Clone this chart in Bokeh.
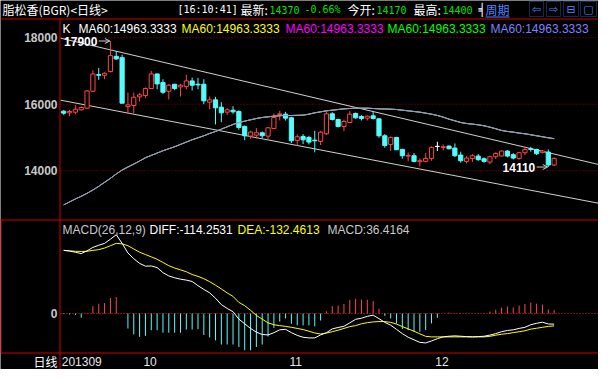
import numpy as np
from bokeh.plotting import figure
from bokeh.models import (Range1d, Label, BoxAnnotation, Arrow, OpenHead, ColumnDataSource)
from bokeh.embed import file_html
from bokeh.resources import INLINE

# ---------------- data ----------------
opens = [15790, 15740, 15760, 15830, 15880, 16390, 16890, 16870, 16980, 17440,
         17400, 15930, 15960, 16220, 16260, 16470, 16910, 16650, 16390, 16600,
         16520, 16530, 16700, 16600, 16600, 16060, 16130, 15910, 15760, 15820,
         15780, 15330, 15040, 15070, 15140, 15040, 15270, 15690, 15700, 15590,
         14910, 15030, 15000, 14920, 14880, 15110, 15710, 15540, 15330, 15450,
         15720, 15630, 15580, 15650, 15560, 15050, 14790, 15000, 14640, 14440,
         14450, 14270, 14280, 14370, 14730, 14700, 14740, 14680, 14470, 14280,
         14370, 14440, 14360, 14260, 14420, 14440, 14590, 14480, 14370, 14540,
         14660, 14640, 14550, 14560, 14170]
highs = [15820, 15830, 15970, 15930, 16420, 17020, 17090, 16960, 17900, 17600,
         17490, 16350, 16350, 16330, 16500, 17000, 16910, 16750, 16610, 16610,
         16610, 16880, 16800, 16790, 16750, 16230, 16220, 16060, 15880, 15940,
         15820, 15360, 15200, 15280, 15180, 15310, 15720, 15800, 15770, 15620,
         15090, 15100, 15050, 15200, 15200, 15770, 15760, 15560, 15530, 15790,
         15750, 15670, 15660, 15800, 15580, 15100, 15030, 15020, 14660, 14550,
         14530, 14370, 14530, 14730, 14870, 14790, 14760, 14820, 14570, 14440,
         14500, 14500, 14400, 14450, 14550, 14610, 14620, 14530, 14560, 14720,
         14720, 14660, 14620, 14640, 14400]
lows = [15680, 15640, 15700, 15810, 15860, 16370, 16730, 16750, 16960, 17340,
        16030, 15720, 15720, 16080, 16180, 16470, 16450, 16310, 16140, 16420,
        16230, 16450, 16410, 16450, 16000, 15850, 15390, 15460, 15670, 15710,
        15230, 14920, 14960, 14970, 14980, 14930, 15250, 15510, 15510, 14830,
        14750, 14800, 14790, 14550, 14770, 15070, 15510, 15300, 15190, 15430,
        15560, 15510, 15510, 15540, 14990, 14690, 14590, 14620, 14360, 14280,
        14250, 14130, 14250, 14300, 14590, 14610, 14640, 14410, 14240, 14220,
        14260, 14300, 14240, 14190, 14350, 14430, 14400, 14340, 14330, 14470,
        14570, 14470, 14520, 14110, 14140]
closes = [15730, 15780, 15850, 15900, 16400, 16910, 16870, 16930, 17460, 17360,
          16030, 15980, 16210, 16280, 16470, 16910, 16610, 16360, 16570, 16470,
          16570, 16700, 16570, 16580, 16100, 16130, 15890, 15740, 15830, 15770,
          15300, 15050, 15160, 15140, 15050, 15290, 15600, 15710, 15580, 14900,
          15020, 14930, 14860, 14900, 15160, 15710, 15540, 15330, 15480, 15700,
          15590, 15570, 15640, 15570, 15050, 14760, 15000, 14630, 14450, 14460,
          14280, 14300, 14370, 14700, 14730, 14720, 14660, 14450, 14300, 14380,
          14450, 14330, 14280, 14420, 14520, 14590, 14440, 14380, 14540, 14640,
          14640, 14510, 14590, 14170, 14370]
ma60 = [12972, 13060, 13150, 13230, 13320, 13420, 13530, 13650, 13770, 13900,
        14020, 14110, 14200, 14290, 14390, 14460, 14530, 14600, 14660, 14720,
        14790, 14860, 14930, 14990, 15050, 15120, 15180, 15250, 15320, 15390,
        15450, 15490, 15530, 15570, 15600, 15620, 15640, 15655, 15660, 15660,
        15665, 15670, 15700, 15740, 15770, 15800, 15820, 15840, 15860, 15870,
        15880, 15880, 15880, 15870, 15860, 15855, 15850, 15840, 15820, 15800,
        15780, 15760, 15730, 15700, 15660, 15610, 15550, 15500, 15450, 15420,
        15400, 15380, 15350, 15310, 15260, 15210, 15180, 15160, 15130, 15110,
        15080, 15050, 15020, 14990, 14963.3333]
diff = [680, 672, 660, 645, 675, 712, 735, 755, 800, 848,
        755, 652, 590, 540, 510, 512, 495, 440, 405, 385,
        370, 360, 345, 300, 260, 223, 165, 96, 55, 20,
        -60, -110, -160, -200, -225, -230, -206, -175, -170, -205,
        -235, -255, -262, -262, -230, -206, -165, -150, -137, -100,
        -62, -50, -30, -17, -55, -95, -125, -170, -216, -255,
        -282, -310, -316, -295, -270, -251, -244, -240, -244, -248,
        -251, -248, -244, -232, -216, -195, -182, -175, -160, -148,
        -120, -105, -93, -112, -114.2531]
dea = [680, 675, 670, 668, 670, 680, 688, 705, 730, 755,
       750, 730, 695, 660, 635, 610, 584, 550, 515, 490,
       470, 450, 420, 400, 375, 343, 305, 265, 222, 185,
       120, 85, 35, -20, -60, -100, -120, -130, -138, -148,
       -160, -172, -190, -209, -220, -210, -195, -179, -160, -141,
       -130, -110, -98, -90, -86, -86, -95, -113, -140, -165,
       -190, -218, -245, -251, -251, -251, -251, -251, -251, -251,
       -251, -251, -251, -245, -233, -222, -216, -205, -196, -185,
       -168, -158, -148, -138, -132.4613]
macd_hist = [-5, -10, -15, -45, 5, 80, 106, 113, 168, 178,
             0, -161, -223, -251, -240, -179, -179, -206, -206, -206,
             -206, -172, -172, -168, -230, -257, -288, -333, -333, -333,
             -360, -395, -395, -360, -333, -247, -154, -86, -52, -110,
             -127, -127, -127, -137, -75, 24, 79, 86, 103, 148,
             158, 151, 148, 134, 52, -24, -52, -106, -168, -179,
             -196, -196, -179, -106, -45, 0, 10, 3, -3, 3,
             0, 3, 3, 21, 41, 65, 76, 65, 86, 103,
             117, 106, 96, 45, 36.4164]
month_labels = ["201309", "10", "11", "12"]
month_pos = [0, 14, 39, 64]
price_ticks = [14000, 16000, 18000]
macd_ticks = [0]
channel_x = [-0.55, 91.6]
channel_upper = [17986, 14187]
channel_lower = [16121, 13021]
pct_change = "-0.66%"
clock = "[16:10:41]"

# ---------------- layout constants (canvas px, origin top-left) ----------------
W, H = 598, 369
LEFT = 60           # left label column
TOP = 19            # header height (red rule at y=18)
BOT = 17            # date row height
FB = H - BOT        # bottom of MACD panel
PRICE_PX = 200
MACD_PX = FB - TOP - PRICE_PX
DIV_Y = TOP + PRICE_PX
X_LO, X_HI = -0.55, 91.6

price_top, price_bottom = 18547, 12532
macd_top, macd_bottom = 1012, -419
ppx = (price_top - price_bottom) / PRICE_PX
mpx = (macd_top - macd_bottom) / MACD_PX
xpx = (W - LEFT) / (X_HI - X_LO)


def price_at(Y):
    return price_top - (Y - TOP) * ppx


def macd_at(Y):
    return macd_top - (Y - DIV_Y) * mpx


RED = "#d20000"
GRID = "#a00000"
UP = "#ff4646"
DOWN = "#54fcfc"
WHITE = "#ffffff"
LGRAY = "#c8c8c8"
YELLOW = "#ffff00"
MAGENTA = "#ff00ff"
GREEN = "#00ff00"
BLUE = "#8080ff"
HGREEN = "#00e000"
LINKBLUE = "#4a86ff"
CJK = "Noto Sans CJK SC"
SANS = "Liberation Sans"
MONO = "DejaVu Sans Mono"

# the plotting frame covers the whole canvas; the label column is the part left of X_LO
p = figure(width=W, height=H, x_range=Range1d(X_LO - LEFT / xpx, X_HI),
           y_range=Range1d(price_at(H), price_at(0)),
           x_axis_type=None, y_axis_type=None,
           output_backend="svg", toolbar_location=None,
           background_fill_color="black", border_fill_color="black", outline_line_color=None,
           min_border_left=0, min_border_right=0, min_border_top=0, min_border_bottom=0)
p.extra_y_ranges = {"macd": Range1d(macd_at(H), macd_at(0))}
p.xgrid.visible = False
p.ygrid.visible = False

# grid lines at the price ticks and the MACD zero line
p.segment(x0=[X_LO] * len(price_ticks), y0=price_ticks, x1=[X_HI] * len(price_ticks), y1=price_ticks,
          line_color=GRID, line_dash="1 2", line_width=1)
p.segment(x0=[X_LO] * len(macd_ticks), y0=macd_ticks, x1=[X_HI] * len(macd_ticks), y1=macd_ticks,
          line_color="#ff2020", line_dash="1 2", line_width=1, y_range_name="macd")

# ---------------- candles ----------------
n = len(closes)
xs = list(range(n))
cols, fills = [], []
for o, c in zip(opens, closes):
    if c > o:
        cols.append(UP); fills.append("black")
    elif c < o:
        cols.append(DOWN); fills.append(DOWN)
    else:
        cols.append(WHITE); fills.append(WHITE)
src = ColumnDataSource(dict(x=xs, o=opens, h=highs, l=lows, c=closes,
                            top=[max(a, b) for a, b in zip(opens, closes)],
                            bot=[min(a, b) for a, b in zip(opens, closes)],
                            col=cols, fill=fills))

p.line(channel_x, channel_upper, line_color="#d0d0d0", line_width=1)
p.line(channel_x, channel_lower, line_color="#d0d0d0", line_width=1)

p.segment(x0="x", y0="h", x1="x", y1="l", line_color="col", line_width=1, source=src)
p.vbar(x="x", width=0.72, top="top", bottom="bot", fill_color="fill", line_color="col",
       line_width=1, source=src)

for col, a in [(WHITE, 0.5), (YELLOW, 0.5), (MAGENTA, 0.5), (GREEN, 0.6), ("#9696dc", 1.0)]:
    p.line(xs, ma60, line_color=col, line_width=1, line_alpha=a)

hi_idx = int(np.argmax(highs)); lo_idx = int(np.argmin(lows))
for idx, val in [(hi_idx, highs[hi_idx]), (lo_idx, lows[lo_idx])]:
    p.add_layout(Arrow(end=OpenHead(size=5, line_color="#d0d0d0", line_width=1),
                       x_start=idx - 2.0, y_start=val, x_end=idx - 0.1, y_end=val,
                       line_color="#d0d0d0", line_width=1))
    p.add_layout(Label(x=idx, y=val, text=str(val), x_offset=-13, text_align="right",
                       text_baseline="middle", text_color=WHITE, text_font=SANS,
                       text_font_size="12px", text_font_style="bold"))

# ---------------- MACD ----------------
hcol = [UP if v > 0 else DOWN for v in macd_hist]
hsrc = ColumnDataSource(dict(x=xs, y0=[0] * n, y1=macd_hist, col=hcol))
p.segment(x0="x", y0="y0", x1="x", y1="y1", line_color="col", line_width=1,
          source=hsrc, y_range_name="macd")
p.line(xs, dea, line_color=YELLOW, line_width=1, y_range_name="macd")
p.line(xs, diff, line_color=WHITE, line_width=1, y_range_name="macd")

# ---------------- axis labels (price and MACD scales) ----------------
for t in price_ticks:
    p.add_layout(Label(x=LEFT - 3, y=t, x_units="screen", y_units="data", text=str(t),
                       text_align="right", text_baseline="middle", text_color=LGRAY,
                       text_font=SANS, text_font_size="12px", text_font_style="bold"))
for t in macd_ticks:
    p.add_layout(Label(x=LEFT - 3, y=t, x_units="screen", y_units="data", y_range_name="macd",
                       text=str(t), text_align="right", text_baseline="middle", text_color=LGRAY,
                       text_font=SANS, text_font_size="12px", text_font_style="bold"))


# ---------------- frame lines / texts (screen units: from canvas left, from canvas bottom) ----------------
def _box(X0, Y0, X1, Y1, **kw):
    p.add_layout(BoxAnnotation(left=X0, right=X1, top=H - Y0, bottom=H - Y1,
                               left_units="screen", right_units="screen",
                               top_units="screen", bottom_units="screen", **kw))


def hline(Y, X0, X1, color=RED):
    _box(X0, Y, X1, Y + 1, fill_color=color, fill_alpha=1, line_color=None)


def vline(X, Y0, Y1, color=RED):
    _box(X, Y0, X + 1, Y1, fill_color=color, fill_alpha=1, line_color=None)


def box(X0, Y0, X1, Y1, color):
    _box(X0, Y0, X1, Y1, fill_color=None, line_color=color, line_width=1)


def label(X, Y, text, color, font=SANS, size="12px", bold=False, align="left"):
    p.add_layout(Label(x=X, y=H - Y, x_units="screen", y_units="screen", text=text,
                       text_color=color, text_font=font, text_font_size=size,
                       text_font_style="bold" if bold else "normal",
                       text_align=align, text_baseline="middle"))


hline(18, 0, W)
hline(DIV_Y, 0, W)
hline(FB, 0, W)
vline(0, DIV_Y, FB)
vline(LEFT - 1, 18, H)

# header
label(2, 9, "脂松香(BGR)<日线>", WHITE, font=CJK)
label(177, 9, clock, WHITE, font=MONO, size="10px")
label(240, 9, "最新:", WHITE, font=CJK)
label(269, 9, str(closes[-1]), HGREEN, font=MONO, size="10px")
label(304, 9, pct_change, HGREEN, font=MONO, size="10px")
label(347, 9, "今开:", WHITE, font=CJK)
label(376, 9, str(opens[-1]), HGREEN, font=MONO, size="10px")
label(413, 9, "最高:", WHITE, font=CJK)
label(442, 9, str(highs[-1]), HGREEN, font=MONO, size="10px")
label(478, 9, "╡", WHITE, font="DejaVu Sans")
label(485, 9, "周期", LINKBLUE, font=CJK)
hline(16, 485, 509, LINKBLUE)
for (x0, x1), sym in zip([(529, 543), (546, 560), (563, 578), (580, 596)], ["⇦", "⇨", "⊟", "▢"]):
    box(x0, 1, x1, 16, LINKBLUE)
    label((x0 + x1) / 2, 9, sym, LINKBLUE, font="DejaVu Sans", size="11px", align="center")

# legend row
label(62, 28, "K", WHITE)
ma_txt = f"MA60:{ma60[-1]:.4f}"
for X, col in zip([78, 181, 285, 387, 490], [WHITE, YELLOW, MAGENTA, GREEN, BLUE]):
    label(X, 28, ma_txt, col)

# MACD header
label(62, DIV_Y + 10, "MACD(26,12,9)", LGRAY)
label(149, DIV_Y + 10, f"DIFF:{diff[-1]:.4f}", WHITE)
label(237, DIV_Y + 10, f"DEA:{dea[-1]:.4f}", YELLOW)
label(327, DIV_Y + 10, f"MACD:{macd_hist[-1]:.4f}", LGRAY)

# date row
ROW_Y = (FB + H) / 2 + 0.5
label(57, ROW_Y, "日线", WHITE, font=CJK, align="right")
for pos, txt in zip(month_pos, month_labels):
    p.add_layout(Label(x=pos, y=H - ROW_Y, x_units="data", y_units="screen", text=txt,
                       x_offset=-2, text_align="left", text_baseline="middle",
                       text_color="#e6e6e6", text_font=SANS, text_font_size="12px"))

open("out.html", "w").write(file_html(p, INLINE))
